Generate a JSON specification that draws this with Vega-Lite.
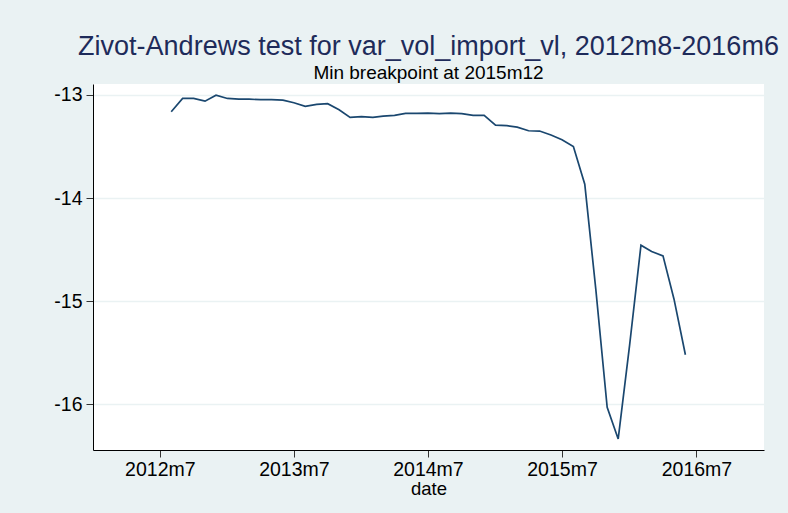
{
  "$schema": "https://vega.github.io/schema/vega-lite/v6.json",
  "autosize": "none",
  "width": 671,
  "height": 366,
  "padding": {"left": 93, "top": 84, "right": 24, "bottom": 63},
  "background": "#EAF2F3",
  "config": {
    "font": "Liberation Sans",
    "view": {"fill": "white", "stroke": null}
  },
  "title": {
    "text": "Zivot-Andrews test for var_vol_import_vl, 2012m8-2016m6",
    "subtitle": "Min breakpoint at 2015m12",
    "anchor": "middle",
    "frame": "group",
    "font": "Liberation Sans",
    "fontSize": 27,
    "fontWeight": "normal",
    "color": "#1E2B5A",
    "subtitleFont": "Liberation Sans",
    "subtitleFontSize": 19,
    "subtitleColor": "#000000",
    "subtitlePadding": 3,
    "offset": 0
  },
  "data": {
    "values": [
      {"date": "2012/08/01", "stat": -13.163},
      {"date": "2012/09/01", "stat": -13.034},
      {"date": "2012/10/01", "stat": -13.034},
      {"date": "2012/11/01", "stat": -13.060},
      {"date": "2012/12/01", "stat": -13.002},
      {"date": "2013/01/01", "stat": -13.034},
      {"date": "2013/02/01", "stat": -13.041},
      {"date": "2013/03/01", "stat": -13.041},
      {"date": "2013/04/01", "stat": -13.046},
      {"date": "2013/05/01", "stat": -13.046},
      {"date": "2013/06/01", "stat": -13.050},
      {"date": "2013/07/01", "stat": -13.076},
      {"date": "2013/08/01", "stat": -13.111},
      {"date": "2013/09/01", "stat": -13.092},
      {"date": "2013/10/01", "stat": -13.085},
      {"date": "2013/11/01", "stat": -13.143},
      {"date": "2013/12/01", "stat": -13.218},
      {"date": "2014/01/01", "stat": -13.211},
      {"date": "2014/02/01", "stat": -13.218},
      {"date": "2014/03/01", "stat": -13.205},
      {"date": "2014/04/01", "stat": -13.198},
      {"date": "2014/05/01", "stat": -13.179},
      {"date": "2014/06/01", "stat": -13.179},
      {"date": "2014/07/01", "stat": -13.177},
      {"date": "2014/08/01", "stat": -13.182},
      {"date": "2014/09/01", "stat": -13.176},
      {"date": "2014/10/01", "stat": -13.182},
      {"date": "2014/11/01", "stat": -13.198},
      {"date": "2014/12/01", "stat": -13.198},
      {"date": "2015/01/01", "stat": -13.292},
      {"date": "2015/02/01", "stat": -13.298},
      {"date": "2015/03/01", "stat": -13.312},
      {"date": "2015/04/01", "stat": -13.347},
      {"date": "2015/05/01", "stat": -13.350},
      {"date": "2015/06/01", "stat": -13.389},
      {"date": "2015/07/01", "stat": -13.434},
      {"date": "2015/08/01", "stat": -13.501},
      {"date": "2015/09/01", "stat": -13.866},
      {"date": "2015/10/01", "stat": -14.883},
      {"date": "2015/11/01", "stat": -16.028},
      {"date": "2015/12/01", "stat": -16.335},
      {"date": "2016/01/01", "stat": -15.428},
      {"date": "2016/02/01", "stat": -14.457},
      {"date": "2016/03/01", "stat": -14.518},
      {"date": "2016/04/01", "stat": -14.560},
      {"date": "2016/05/01", "stat": -14.980},
      {"date": "2016/06/01", "stat": -15.519}
    ]
  },
  "mark": {"type": "line", "color": "#1A476F", "strokeWidth": 1.7, "clip": true},
  "encoding": {
    "x": {
      "field": "date",
      "type": "temporal",
      "title": "date",
      "scale": {"domain": [{"year": 2012, "month": 1, "date": 1}, {"year": 2017, "month": 1, "date": 1}]},
      "axis": {
        "values": [
          {"year": 2012, "month": 7, "date": 1},
          {"year": 2013, "month": 7, "date": 1},
          {"year": 2014, "month": 7, "date": 1},
          {"year": 2015, "month": 7, "date": 1},
          {"year": 2016, "month": 7, "date": 1}
        ],
        "format": "%Ym%-m",
        "grid": false,
        "domainColor": "#000000",
        "domainWidth": 1,
        "tickColor": "#333333",
        "tickSize": 7,
        "labelFontSize": 19.5,
        "labelColor": "#000000",
        "labelPadding": 3,
        "labelFlush": false,
        "titleFontSize": 18.5,
        "titleFontWeight": "normal",
        "titleColor": "#000000",
        "titlePadding": 1
      }
    },
    "y": {
      "field": "stat",
      "type": "quantitative",
      "title": null,
      "scale": {"domain": [-16.442, -12.894], "nice": false, "zero": false},
      "axis": {
        "values": [-16, -15, -14, -13],
        "labelExpr": "'-' + abs(datum.value)",
        "grid": true,
        "gridColor": "#EAF2F3",
        "gridWidth": 1.5,
        "domainColor": "#000000",
        "domainWidth": 1,
        "tickColor": "#333333",
        "tickSize": 7,
        "labelFontSize": 19.5,
        "labelColor": "#000000",
        "labelPadding": 4
      }
    }
  }
}
